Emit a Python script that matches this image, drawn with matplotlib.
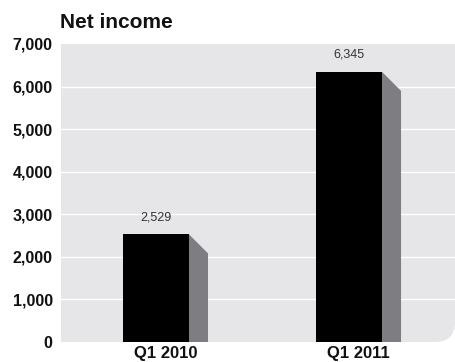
import matplotlib.pyplot as plt
from matplotlib.path import Path
from matplotlib.patches import PathPatch, Polygon

# Datos de la grafica
categorias = ['Q1 2010', 'Q1 2011']
valores = [2529, 6345]
etiquetas_valor = ['2,529', '6,345']
ticks_y = [0, 1000, 2000, 3000, 4000, 5000, 6000, 7000]

plt.rcParams['font.family'] = ['Liberation Sans', 'DejaVu Sans']

W, H = 455, 362
fig = plt.figure(figsize=(W / 100, H / 100), dpi=100)
ax_l, ax_b, ax_r, ax_t = 61, 342, 455, 44
ax = fig.add_axes([ax_l / W, (H - ax_b) / H, (ax_r - ax_l) / W, (ax_b - ax_t) / H])
ax.set_facecolor('none')

# Fondo gris con esquina inferior derecha redondeada (coordenadas de ejes)
rx = 20 / (ax_r - ax_l)
ry = 20 / (ax_b - ax_t)
verts = [(0, 0), (1 - rx, 0), (1, 0), (1, ry), (1, 1), (0, 1), (0, 0)]
codes = [Path.MOVETO, Path.LINETO, Path.CURVE3, Path.CURVE3, Path.LINETO, Path.LINETO, Path.CLOSEPOLY]
fondo = PathPatch(Path(verts, codes), facecolor='#e6e6e8', edgecolor='none',
                  transform=ax.transAxes, zorder=0)
ax.add_patch(fondo)

# Lineas de cuadricula blancas
for t in ticks_y[1:-1]:
    ax.axhline(t, color='white', lw=1.0, zorder=1)

x = list(range(len(categorias)))
ancho = 0.342
dx = 0.0984
dy = 447

# Sombra de las barras
for xi, v in zip(x, valores):
    x0 = xi + ancho / 2
    sombra = Polygon([(x0, v), (x0 + dx, v - dy), (x0 + dx, 0), (x0, 0)],
                     closed=True, facecolor='#7e7e82', edgecolor='none', zorder=2)
    ax.add_patch(sombra)

ax.bar(x, valores, width=ancho, color='black', zorder=3)

for xi, v, et in zip(x, valores, etiquetas_valor):
    ax.text(xi, v + 400, et, ha='center', va='center', fontsize=9, color='#333333', zorder=4)

ax.set_xlim(-0.492, 1.549)
ax.set_ylim(0, 7000)
ax.set_yticks(ticks_y)
ax.set_yticklabels([f'{t:,}' for t in ticks_y], fontsize=11.5, fontweight='bold')
# etiquetas centradas sobre barra + sombra
ax.set_xticks([xi + dx / 2 for xi in x])
ax.set_xticklabels(categorias, fontsize=12, fontweight='bold')
ax.tick_params(axis='both', length=0, colors='#111111')
ax.tick_params(axis='y', pad=6)
ax.tick_params(axis='x', pad=3)
for s in ax.spines.values():
    s.set_visible(False)

fig.text(60 / W, 1 - 22 / H, 'Net income', fontsize=15, fontweight='bold',
         ha='left', va='center', color='#111111')

fig.savefig('out.png', dpi=100)
